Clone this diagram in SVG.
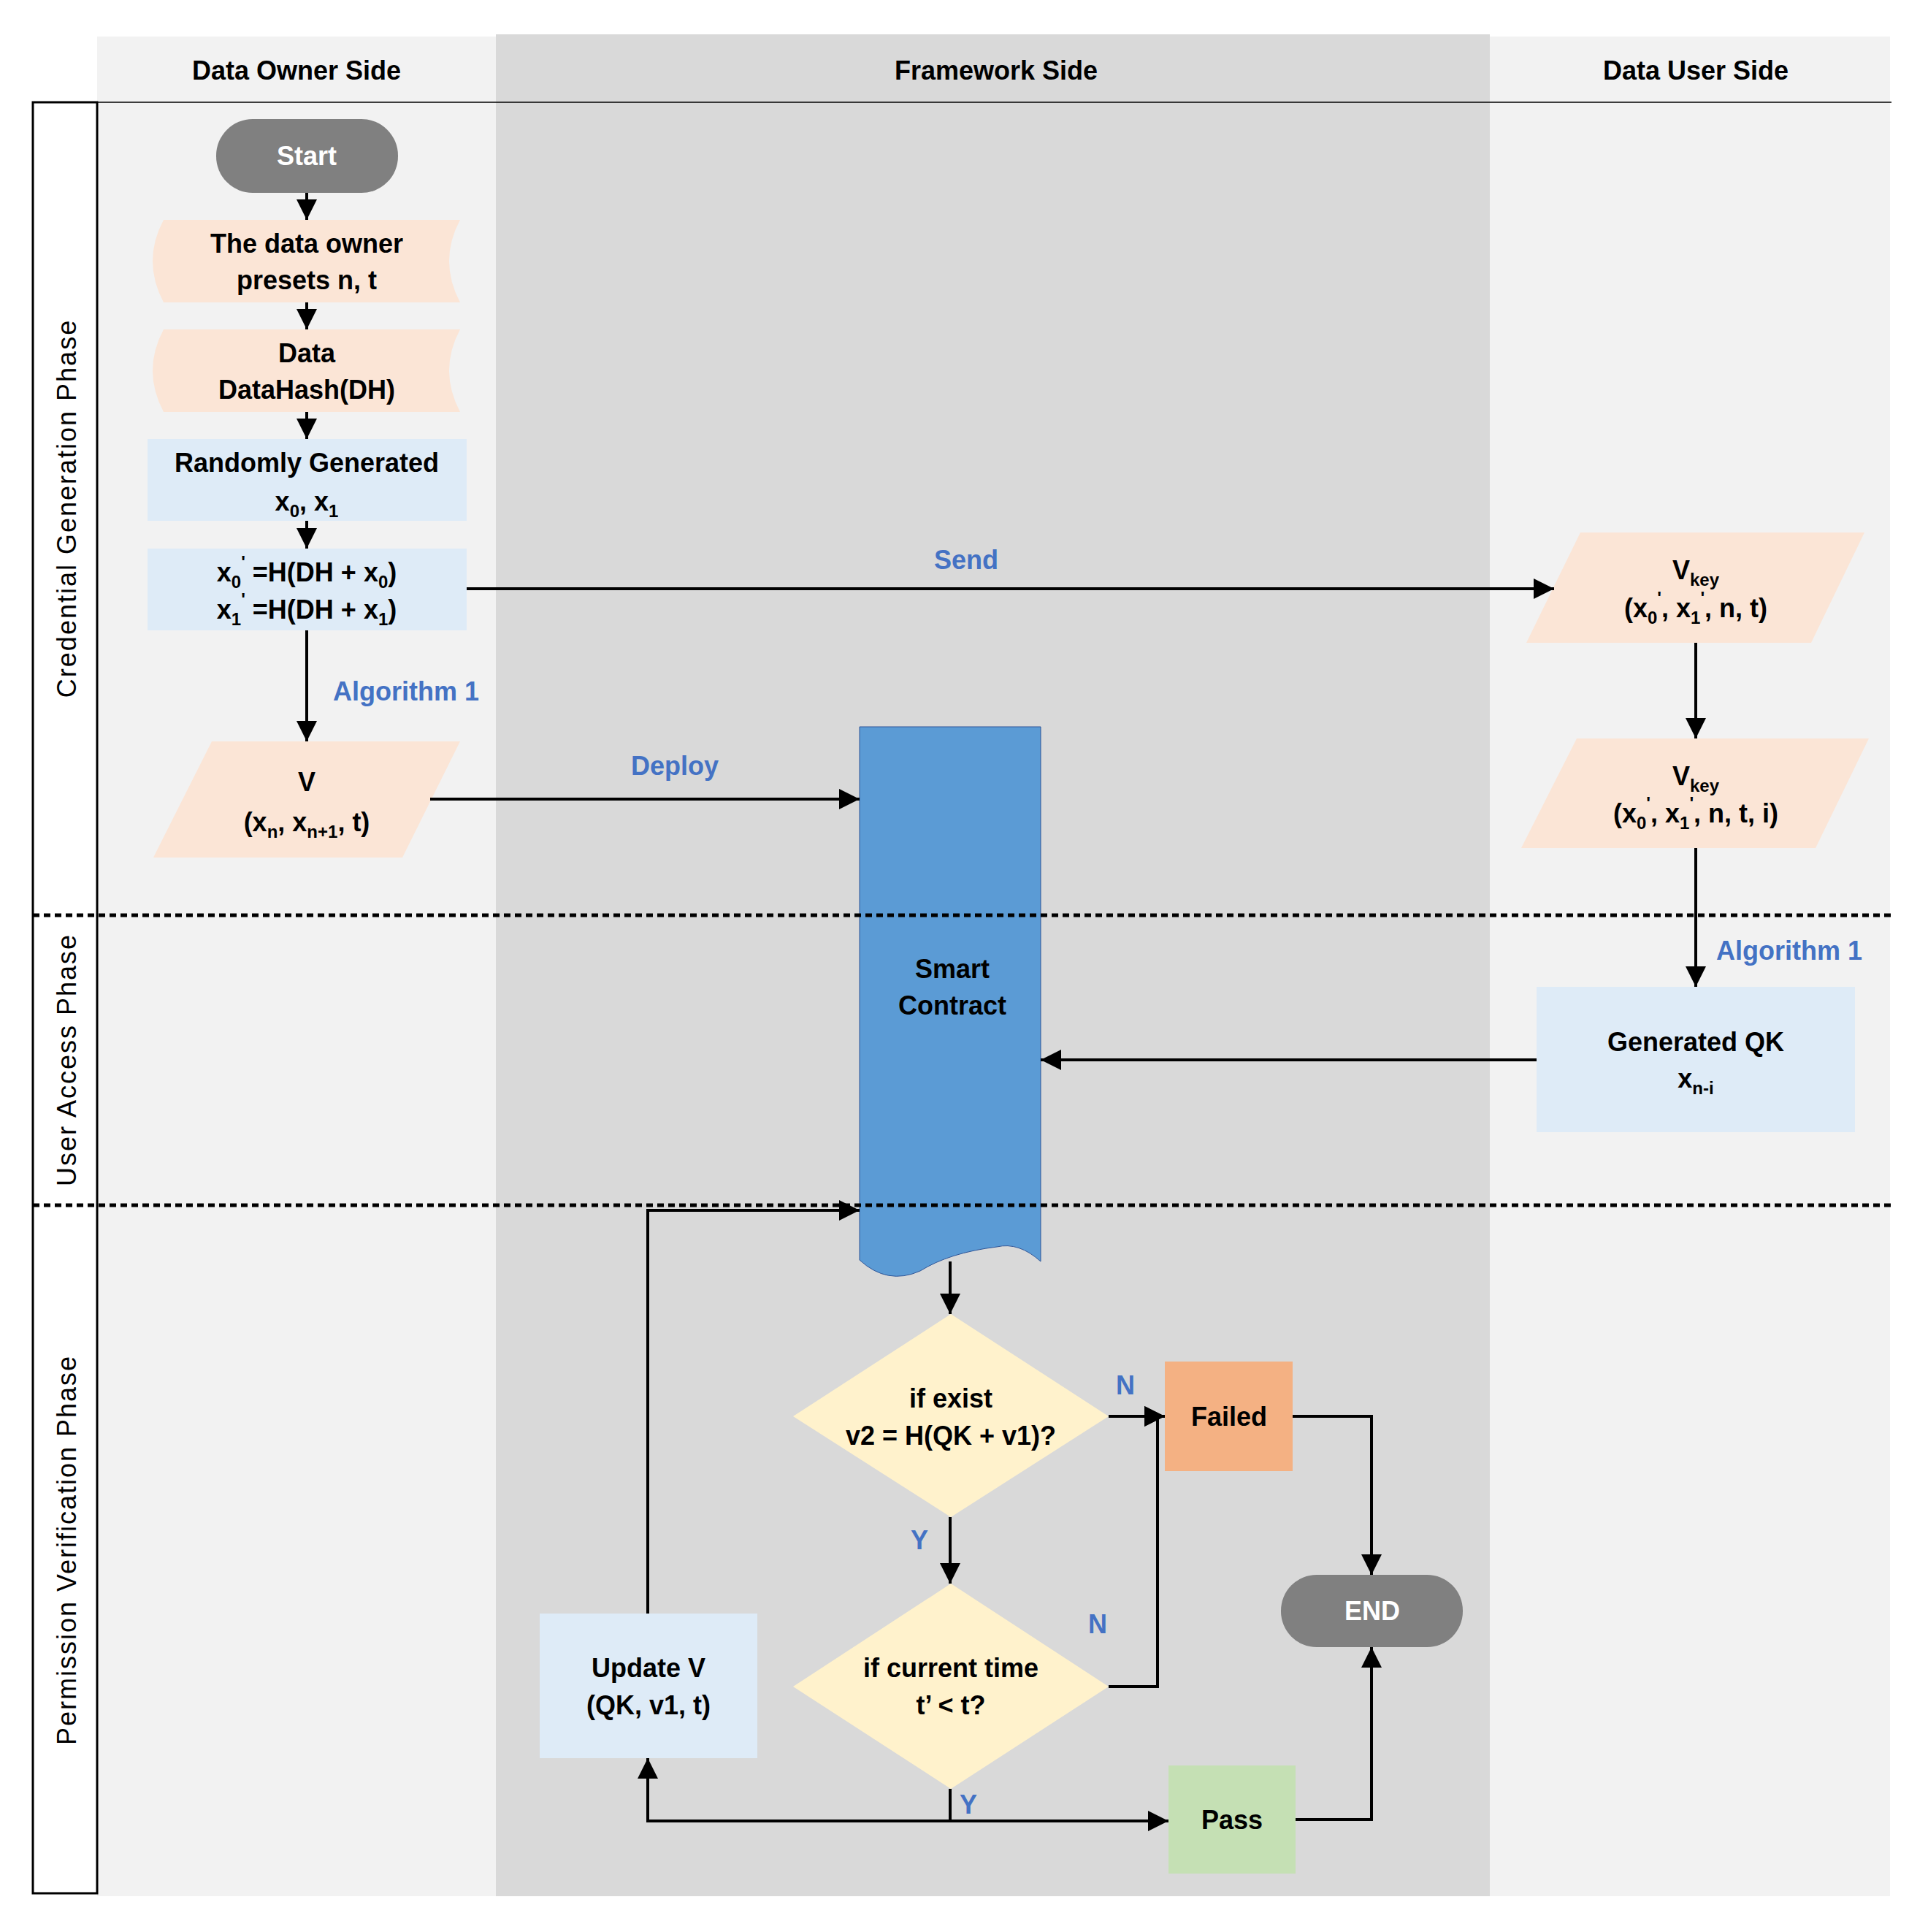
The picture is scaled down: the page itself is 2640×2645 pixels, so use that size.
<svg xmlns="http://www.w3.org/2000/svg" width="2640" height="2645" viewBox="0 0 2640 2645">
<style>
text{font-family:"Liberation Sans",Arial,sans-serif;font-weight:bold;font-size:36px;fill:#000;text-anchor:middle;dominant-baseline:central}
.lbl{fill:#4472C4}
.w{fill:#fff}
.sub{font-size:24px;baseline-shift:sub}
.sup{font-size:24px;baseline-shift:super}
.ln{fill:none;stroke:#000;stroke-width:4}
.dash{stroke:#000;stroke-width:5;stroke-dasharray:9,6}
.peach{fill:#FBE5D6}.blue{fill:#DEEBF7}.dia{fill:#FFF2CC}
</style>
<defs>
<marker id="a" viewBox="0 0 10 10" refX="10" refY="5" markerWidth="7" markerHeight="7" markerUnits="userSpaceOnUse" orient="auto" style="overflow:visible">
<path d="M0,0 L10,5 L0,10 Z" fill="#000" transform="scale(2.8) translate(-6.4,-3.2)"/>
</marker>
<marker id="m" viewBox="0 0 28 28" refX="28" refY="14" markerWidth="28" markerHeight="28" markerUnits="userSpaceOnUse" orient="auto">
<path d="M0,0 L28,14 L0,28 Z" fill="#000"/>
</marker>
</defs>
<g id="lanes">
<rect x="133" y="50" width="546" height="2546" fill="#F2F2F2"/>
<rect x="679" y="47" width="1361" height="2549" fill="#D9D9D9"/>
<rect x="2040" y="50" width="548" height="2546" fill="#F2F2F2"/>
<line x1="133" y1="140" x2="2590" y2="140" stroke="#000" stroke-width="1.5"/>
<rect x="45" y="140" width="88" height="2452" fill="#fff" stroke="#000" stroke-width="3"/>
<text x="406" y="96">Data Owner Side</text>
<text x="1364" y="96">Framework Side</text>
<text x="2322" y="96">Data User Side</text>
<text transform="translate(91,696) rotate(-90)" font-weight="normal" style="font-weight:normal" letter-spacing="2">Credential  Generation  Phase</text>
<text transform="translate(91,1451) rotate(-90)" style="font-weight:normal" letter-spacing="2">User  Access  Phase</text>
<text transform="translate(91,2122) rotate(-90)" style="font-weight:normal" letter-spacing="2">Permission  Verification  Phase</text>
</g>
<g id="sc">
<path d="M1177,995 L1425,995 L1425,1727 Q1395,1700 1365,1707 Q1300,1715 1260,1740 Q1215,1760 1177,1725 Z" fill="#5B9BD5" stroke="#2F5597" stroke-width="1"/>
<text x="1304" y="1326">Smart</text>
<text x="1304" y="1376">Contract</text>
</g>
<g id="dashes">
<line class="dash" x1="45" y1="1253" x2="2590" y2="1253"/>
<line class="dash" x1="45" y1="1650" x2="2590" y2="1650"/>
</g>
<g id="start"><rect x="296" y="163" width="249" height="101" rx="50" fill="#808080"/><text class="w" x="420" y="213">Start</text></g>
<g id="preset"><path class="peach" d="M224,301 L630,301 Q600,357 630,414 L224,414 Q194,357 224,301 Z"/><text x="420" y="333">The data owner</text><text x="420" y="383">presets n, t</text></g>
<g id="data"><path class="peach" d="M224,451 L630,451 Q600,507 630,564 L224,564 Q194,507 224,451 Z"/><text x="420" y="483">Data</text><text x="420" y="533">DataHash(DH)</text></g>
<g id="rand"><rect class="blue" x="202" y="601" width="437" height="112"/><text x="420" y="633">Randomly Generated</text><text x="420" y="686">x<tspan class="sub">0</tspan>, x<tspan class="sub">1</tspan></text></g>
<g id="hash"><rect class="blue" x="202" y="751" width="437" height="112"/><text x="420" y="783">x<tspan class="sub">0</tspan><tspan class="sup">'</tspan> =H(DH + x<tspan class="sub">0</tspan>)</text><text x="420" y="834">x<tspan class="sub">1</tspan><tspan class="sup">'</tspan> =H(DH + x<tspan class="sub">1</tspan>)</text></g>
<g id="v"><path class="peach" d="M290,1015 L630,1015 L551,1174 L210,1174 Z"/><text x="420" y="1070">V</text><text x="420" y="1125">(x<tspan class="sub">n</tspan>, x<tspan class="sub">n+1</tspan>, t)</text></g>
<g id="vkey1"><path class="peach" d="M2164,729 L2553,729 L2480,880 L2090,880 Z"/><text x="2322" y="780">V<tspan class="sub">key</tspan></text><text x="2322" y="832">(x<tspan class="sub">0</tspan><tspan class="sup">'</tspan>, x<tspan class="sub">1</tspan><tspan class="sup">'</tspan>, n, t)</text></g>
<g id="vkey2"><path class="peach" d="M2159,1011 L2559,1011 L2486,1161 L2083,1161 Z"/><text x="2322" y="1062">V<tspan class="sub">key</tspan></text><text x="2322" y="1113">(x<tspan class="sub">0</tspan><tspan class="sup">'</tspan>, x<tspan class="sub">1</tspan><tspan class="sup">'</tspan>, n, t, i)</text></g>
<g id="qk"><rect class="blue" x="2104" y="1351" width="436" height="199"/><text x="2322" y="1426">Generated QK</text><text x="2322" y="1476">x<tspan class="sub">n-i</tspan></text></g>
<g id="d1"><path class="dia" d="M1302,1799 L1518,1939 L1302,2077 L1086,1939 Z"/><text x="1302" y="1914">if exist</text><text x="1302" y="1965">v2 = H(QK + v1)?</text></g>
<g id="d2"><path class="dia" d="M1302,2168 L1518,2309 L1302,2449 L1086,2309 Z"/><text x="1302" y="2283">if current time</text><text x="1302" y="2334">t’ &lt; t?</text></g>
<g id="upd"><rect class="blue" x="739" y="2209" width="298" height="198"/><text x="888" y="2283">Update V</text><text x="888" y="2334">(QK, v1, t)</text></g>
<g id="failed"><rect x="1595" y="1864" width="175" height="150" fill="#F4B183"/><text x="1683" y="1939">Failed</text></g>
<g id="end"><rect x="1754" y="2156" width="249" height="99" rx="49" fill="#808080"/><text class="w" x="1879" y="2205">END</text></g>
<g id="pass"><rect x="1600" y="2417" width="174" height="148" fill="#C5E0B4"/><text x="1687" y="2491">Pass</text></g>
<g id="connectors">
<path class="ln" marker-end="url(#m)" d="M420,264 V301"/>
<path class="ln" marker-end="url(#m)" d="M420,414 V451"/>
<path class="ln" marker-end="url(#m)" d="M420,564 V601"/>
<path class="ln" marker-end="url(#m)" d="M420,713 V751"/>
<path class="ln" marker-end="url(#m)" d="M420,863 V1015"/>
<path class="ln" marker-end="url(#m)" d="M639,806 H2128"/>
<path class="ln" marker-end="url(#m)" d="M589,1094 H1177"/>
<path class="ln" marker-end="url(#m)" d="M2322,880 V1011"/>
<path class="ln" marker-end="url(#m)" d="M2322,1161 V1351"/>
<path class="ln" marker-end="url(#m)" d="M2104,1451 H1425"/>
<path class="ln" marker-end="url(#m)" d="M1301,1727 V1799"/>
<path class="ln" marker-end="url(#m)" d="M1301,2077 V2168"/>
<path class="ln" marker-end="url(#m)" d="M1518,1939 H1595"/>
<path class="ln" marker-end="url(#m)" d="M1518,2309 H1585 V1939 H1595"/>
<path class="ln" marker-end="url(#m)" d="M1770,1939 H1878 V2156"/>
<path class="ln" marker-end="url(#m)" d="M1774,2491 H1878 V2255"/>
<path class="ln" marker-end="url(#m)" d="M1301,2449 V2493 H887 V2407"/>
<path class="ln" marker-end="url(#m)" d="M1301,2493 H1600"/>
<path class="ln" marker-end="url(#m)" d="M887,2209 V1657 H1177"/>
</g>
<g id="labels">
<text class="lbl" x="1323" y="766">Send</text>
<text class="lbl" x="556" y="946">Algorithm 1</text>
<text class="lbl" x="924" y="1048">Deploy</text>
<text class="lbl" x="2450" y="1301">Algorithm 1</text>
<text class="lbl" x="1541" y="1896">N</text>
<text class="lbl" x="1503" y="2223">N</text>
<text class="lbl" x="1259" y="2108">Y</text>
<text class="lbl" x="1326" y="2470">Y</text>
</g>
</svg>
